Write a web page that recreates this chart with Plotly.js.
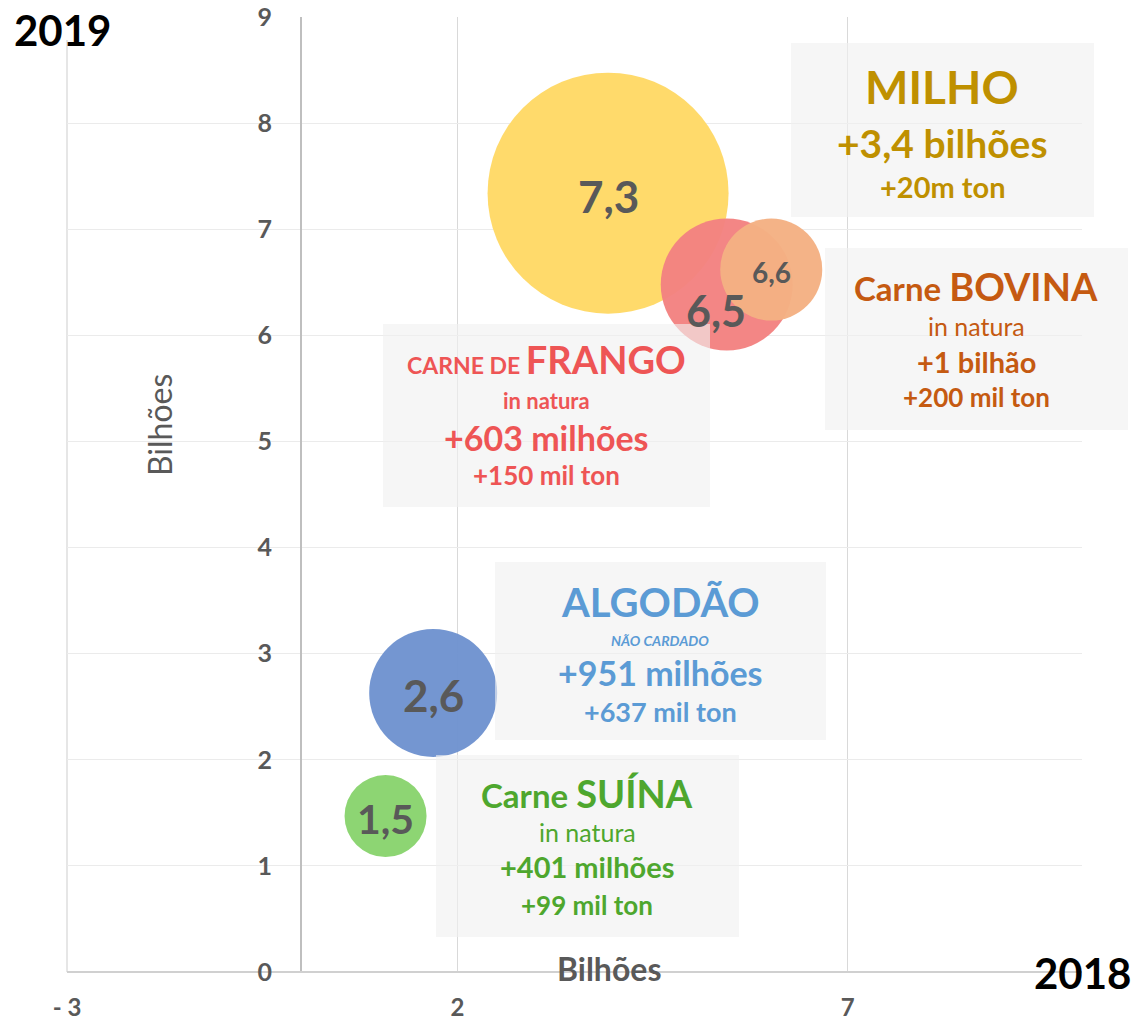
<!DOCTYPE html>
<html><head><meta charset="utf-8">
<script src="https://cdn.plot.ly/plotly-3.0.1.min.js"></script>
<style>html,body{margin:0;padding:0;background:#fff}#chart{width:1135px;height:1024px}</style>
</head><body><div id="chart"></div>
<script>
// ---- data ----
const produtos = ["Milho", "Carne de frango", "Carne bovina", "Algodão", "Carne suína"];
const valor2018 = [3.93, 5.45, 6.02, 1.69, 1.08];   // x, bilhões
const valor2019 = [7.34, 6.48, 6.62, 2.63, 1.47];   // y, bilhões
const rotulos = ["7,3", "6,5", "6,6", "2,6", "1,5"];
const tamanho = [241, 132, 102, 128, 82];           // bubble diameter
const xTickVals = [-3, 2, 7];
const xTickText = ["- 3", "2", "7"];

// ---- styles ----
const bubbleColors = ["#FFD966", "#F38281", "#F4B183", "#6F93D0", "#89D46E"];
const labelSizes = [44, 43, 28, 44, 41];
const labelShift = [[0, -3], [-11, -26], [0, -2], [0, -2], [0, -2]];
const FONT = "Lato, 'Open Sans', sans-serif";
const GRAY = "#595959";

const L = 67, R = 1082, T = 17, B = 972;
const px = x => (x - L) / (R - L);
const py = y => (B - y) / (B - T);

const boxes = [
  [791, 1094, 43, 217],
  [825, 1128, 248, 430],
  [383, 710, 324, 507],
  [495, 826, 562, 740],
  [436, 739, 755, 937]
];

const boxTexts = [
  // Milho
  {x: 942, y: 87, t: "MILHO", s: 46, c: "#BF9000", w: 700},
  {x: 942, y: 143, t: "+3,4 bilhões", s: 39, c: "#BF9000", w: 700},
  {x: 942, y: 187, t: "+20m ton", s: 29, c: "#BF9000", w: 700},
  // Bovina
  {x: 976, y: 286, t: "Carne <span style='font-size:38px'>BOVINA</span>", s: 33, c: "#C55A11", w: 700},
  {x: 976, y: 326, t: "in natura", s: 25, c: "#C55A11", w: 400},
  {x: 976, y: 361, t: "+1 bilhão", s: 29, c: "#C55A11", w: 700},
  {x: 976, y: 397, t: "+200 mil ton", s: 26, c: "#C55A11", w: 700},
  // Frango
  {x: 546, y: 359, t: "CARNE DE <span style='font-size:38px'>FRANGO</span>", s: 23, c: "#EE5555", w: 700},
  {x: 546, y: 400, t: "in natura", s: 22, c: "#EE5555", w: 700},
  {x: 546, y: 437, t: "+603 milhões", s: 34, c: "#EE5555", w: 700},
  {x: 546, y: 475, t: "+150 mil ton", s: 26, c: "#EE5555", w: 700},
  // Algodão
  {x: 660, y: 602, t: "ALGODÃO", s: 40, c: "#5B9BD5", w: 700},
  {x: 660, y: 640, t: "NÃO CARDADO", s: 14, c: "#5B9BD5", w: 700, it: true},
  {x: 660, y: 672, t: "+951 milhões", s: 34, c: "#5B9BD5", w: 700},
  {x: 660, y: 712, t: "+637 mil ton", s: 27, c: "#5B9BD5", w: 700},
  // Suína
  {x: 587, y: 793, t: "Carne <span style='font-size:38px'>SUÍNA</span>", s: 33, c: "#4EA72E", w: 700},
  {x: 587, y: 832, t: "in natura", s: 25, c: "#4EA72E", w: 400},
  {x: 587, y: 867, t: "+401 milhões", s: 29, c: "#4EA72E", w: 700},
  {x: 587, y: 905, t: "+99 mil ton", s: 26, c: "#4EA72E", w: 700}
];

const shapes = [{
  type: "line", xref: "paper", yref: "paper", layer: "below",
  x0: 0, x1: 0, y0: 0, y1: py(40), line: {color: "#dedede", width: 1.5}
}].concat(boxes.map(b => ({
  type: "rect", xref: "paper", yref: "paper", layer: "above",
  x0: px(b[0]), x1: px(b[1]), y0: py(b[3]), y1: py(b[2]),
  fillcolor: "rgba(240,240,240,0.62)", line: {width: 0}
})));

const annotations = [];
boxTexts.forEach(d => annotations.push({
  xref: "paper", yref: "paper", x: px(d.x), y: py(d.y), text: d.t,
  showarrow: false, xanchor: "center", yanchor: "middle",
  font: {family: FONT, size: d.s, color: d.c, weight: d.w, style: d.it ? "italic" : "normal"}
}));

rotulos.forEach((r, i) => annotations.push({
  x: valor2018[i], y: valor2019[i], xref: "x", yref: "y", text: r, showarrow: false,
  xanchor: "center", yanchor: "middle",
  xshift: labelShift[i][0], yshift: labelShift[i][1],
  font: {family: FONT, size: labelSizes[i], color: GRAY, weight: 700}
}));

const centered = {showarrow: false, xanchor: "center", yanchor: "middle", xref: "paper", yref: "paper"};
annotations.push(
  Object.assign({x: px(62), y: py(30), text: "2019",
   font: {family: FONT, size: 42, color: "#000", weight: 700}}, centered),
  Object.assign({x: px(1082), y: py(973), text: "2018",
   font: {family: FONT, size: 42, color: "#000", weight: 700}}, centered),
  Object.assign({x: px(609), y: py(968), text: "Bilhões",
   font: {family: FONT, size: 32, color: GRAY, weight: 700}}, centered),
  Object.assign({x: px(160), y: py(425), text: "Bilhões", textangle: -90,
   font: {family: FONT, size: 32, color: GRAY, weight: 400}}, centered)
);

const trace = {
  type: "scatter", mode: "markers",
  x: valor2018, y: valor2019, text: produtos,
  hoverinfo: "text",
  marker: {size: tamanho, sizemode: "diameter", sizeref: 1, color: bubbleColors,
           opacity: 0.97, line: {width: 0}}
};

const layout = {
  width: 1135, height: 1024,
  margin: {l: L, r: 1135 - R, t: T, b: 1024 - B, pad: 0},
  paper_bgcolor: "#fff", plot_bgcolor: "#fff",
  showlegend: false,
  font: {family: FONT, color: GRAY},
  xaxis: {
    range: [-3, 10], tickvals: xTickVals, ticktext: xTickText,
    showgrid: true, gridcolor: "#d9d9d9", gridwidth: 1,
    zeroline: true, zerolinecolor: "#bfbfbf", zerolinewidth: 1.5,
    showline: false, ticks: "outside", ticklen: 14, tickcolor: "rgba(0,0,0,0)",
    tickfont: {family: FONT, size: 24, color: GRAY, weight: 700}
  },
  yaxis: {
    range: [0, 9], dtick: 1, tick0: 0, anchor: "free", position: px(301),
    showgrid: true, gridcolor: "#ebebeb", gridwidth: 1,
    zeroline: true, zerolinecolor: "#d0d0d0", zerolinewidth: 2,
    showline: false, ticks: "outside", ticklen: 24, tickcolor: "rgba(0,0,0,0)",
    tickfont: {family: FONT, size: 25, color: GRAY, weight: 700}
  },
  shapes: shapes,
  annotations: annotations
};

Plotly.newPlot("chart", [trace], layout, {displayModeBar: false, staticPlot: true});
</script>
</body></html>
